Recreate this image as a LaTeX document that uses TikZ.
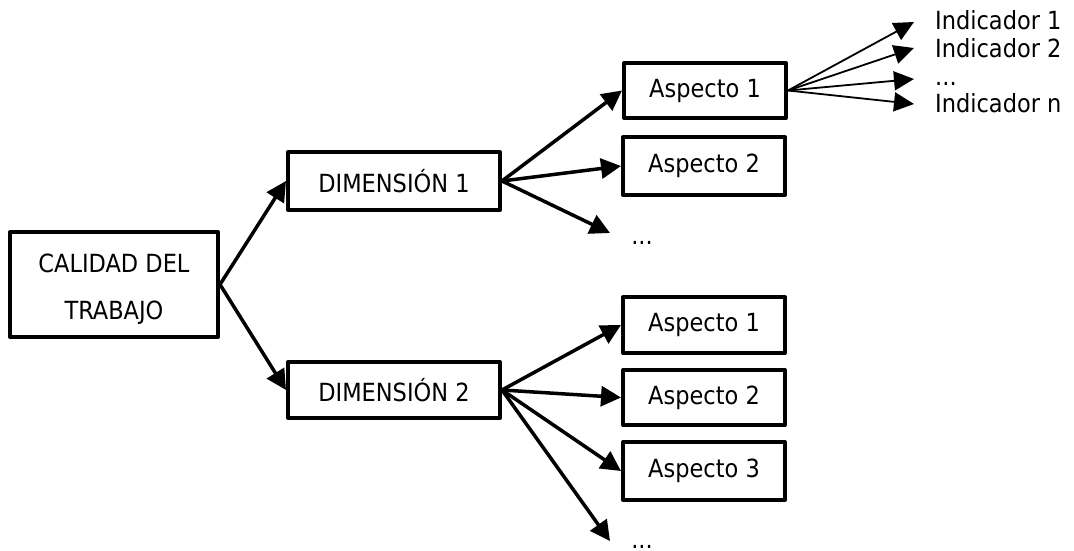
\documentclass[tikz,border=0pt]{standalone}
\usepackage{fontspec}
\setmainfont{DejaVu Sans Condensed}
\usetikzlibrary{arrows.meta}
\tikzset{
  box/.style={draw, line width=4pt, line join=round, minimum height=56pt, inner sep=0pt, font=\fontsize{25}{30}\selectfont},
  thick arrow/.style={line width=3.5pt, -{Triangle[length=20pt,width=20pt]}},
  thin arrow/.style={line width=1.8pt, -{Triangle[length=20pt,width=19pt]}},
  label text/.style={inner sep=0pt, font=\fontsize{25}{30}\selectfont},
}
\begin{document}
\begin{tikzpicture}[x=1pt, y=-1pt]
\useasboundingbox (0,0) rectangle (1074,551);
% root
\node[box, minimum width=208pt, minimum height=105pt] (root) at (114,284.5) {};
\node[label text, anchor=base] (root1) at (114,272) {CALIDAD DEL};
\node[label text, anchor=base] (root2) at (114,319) {TRABAJO};
% dimensions
\node[box, minimum width=212pt, minimum height=58pt] (d1) at (394,181) {DIMENSIÓN 1};
\node[box, minimum width=212pt, minimum height=56pt] (d2) at (394,390) {DIMENSIÓN 2};
% aspects of dimension 1
\node[box, minimum width=162pt, minimum height=55pt] (a11) at (705,90.5) {Aspecto 1};
\node[box, minimum width=162pt, minimum height=58pt] (a12) at (704,166) {Aspecto 2};
\node[label text, anchor=base] (dots1) at (642,244) {...};
% aspects of dimension 2
\node[box, minimum width=162pt, minimum height=56pt] (a21) at (704,325) {Aspecto 1};
\node[box, minimum width=162pt, minimum height=55pt] (a22) at (704,397.5) {Aspecto 2};
\node[box, minimum width=162pt, minimum height=58pt] (a23) at (704,471) {Aspecto 3};
\node[label text, anchor=base] (dots2) at (642,548) {...};
% indicators of the first aspect
\node[label text, anchor=base west] (i1) at (935,30) {Indicador 1};
\node[label text, anchor=base west] (i2) at (935,58) {Indicador 2};
\node[label text, anchor=base west] (i3) at (935,85) {...};
\node[label text, anchor=base west] (i4) at (935,112) {Indicador n};
\coordinate (t1) at (914,22);
\coordinate (t2) at (914,48);
\coordinate (t3) at (914,79);
\coordinate (t4) at (914,104);
\coordinate (td1) at (610,233);
\coordinate (td2) at (610,541);
% connectors
\draw[thick arrow] (root.east) -- (d1.west);
\draw[thick arrow] (root.east) -- (d2.west);
\draw[thick arrow] (d1.east) -- (a11.west);
\draw[thick arrow] (d1.east) -- (a12.west);
\draw[thick arrow] (d1.east) -- (td1);
\draw[thick arrow] (d2.east) -- (a21.west);
\draw[thick arrow] (d2.east) -- (a22.west);
\draw[thick arrow] (d2.east) -- (a23.west);
\draw[thick arrow] (d2.east) -- (td2);
\draw[thin arrow] (a11.east) -- (t1);
\draw[thin arrow] (a11.east) -- (t2);
\draw[thin arrow] (a11.east) -- (t3);
\draw[thin arrow] (a11.east) -- (t4);
\end{tikzpicture}
\end{document}
